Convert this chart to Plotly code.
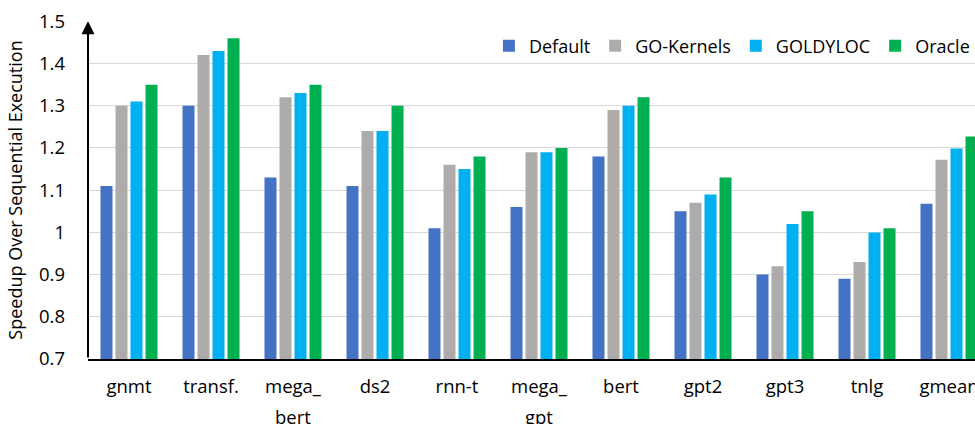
import plotly.graph_objects as go

categories = ["gnmt", "transf.", "mega_", "ds2", "rnn-t", "mega_", "bert", "gpt2", "gpt3", "tnlg", "gmean"]
second_line = ["", "", "bert", "", "", "gpt", "", "", "", "", ""]
series_names = ["Default", "GO-Kernels", "GOLDYLOC", "Oracle"]
default_vals = [1.11, 1.30, 1.13, 1.11, 1.01, 1.06, 1.18, 1.05, 0.90, 0.89, 1.068]
gokernels_vals = [1.30, 1.42, 1.32, 1.24, 1.16, 1.19, 1.29, 1.07, 0.92, 0.93, 1.172]
goldyloc_vals = [1.31, 1.43, 1.33, 1.24, 1.15, 1.19, 1.30, 1.09, 1.02, 1.00, 1.199]
oracle_vals = [1.35, 1.46, 1.35, 1.30, 1.18, 1.20, 1.32, 1.13, 1.05, 1.01, 1.227]
y_tickvals = [0.7, 0.8, 0.9, 1.0, 1.1, 1.2, 1.3, 1.4, 1.5]
y_ticktext = ["0.7", "0.8", "0.9", "1", "1.1", "1.2", "1.3", "1.4", "1.5"]
colors = ["#4472C4", "#AEABAB", "#00B0F0", "#00B050"]

FONT = "Open Sans, Calibri, sans-serif"
FS = 18.5
x_idx = list(range(len(categories)))

fig = go.Figure()
for name, vals, col in zip(series_names, [default_vals, gokernels_vals, goldyloc_vals, oracle_vals], colors):
    fig.add_trace(go.Bar(x=x_idx, y=vals, name=name, marker=dict(color=col, line=dict(width=0))))

annotations = []
for i, t in enumerate(second_line):
    if t:
        annotations.append(dict(x=i, y=0, xref="x", yref="paper", text=t, showarrow=False,
                                yanchor="middle", yshift=-57, font=dict(family=FONT, size=FS, color="#000")))
# y-axis arrow
annotations.append(dict(x=-0.5, y=1.5, xref="x", yref="y", ax=-0.5, ay=0.7, axref="x", ayref="y",
                        text="", showarrow=True, arrowhead=2, arrowsize=1.3, arrowwidth=2, arrowcolor="#000"))

fig.update_layout(
    width=975, height=424,
    margin=dict(l=88, r=0, t=21, b=65, autoexpand=False),
    paper_bgcolor="white", plot_bgcolor="white",
    barmode="group", bargap=0.268, bargroupgap=0.2,
    font=dict(family=FONT, size=FS, color="#000"),
    showlegend=True,
    legend=dict(orientation="h", x=0.452, xanchor="left", y=0.926, yanchor="middle",
                font=dict(family=FONT, size=18, color="#000"), bgcolor="rgba(0,0,0,0)",
                traceorder="normal"),
    xaxis=dict(tickmode="array", tickvals=x_idx, ticktext=categories, range=[-0.5, 10.317],
               showgrid=False, showline=True, linecolor="#000", linewidth=2, ticks="",
               automargin=False, ticklabeloverflow="allow",
               ticklabelstandoff=10, tickfont=dict(family=FONT, size=FS, color="#000"), zeroline=False),
    yaxis=dict(range=[0.7, 1.5008], tickmode="array", tickvals=y_tickvals, ticktext=y_ticktext,
               showgrid=True, gridcolor="#D9D9D9", gridwidth=1, showline=False, ticks="",
               automargin=False, ticklabeloverflow="allow",
               ticklabelstandoff=22, zeroline=False, tickfont=dict(family=FONT, size=FS, color="#000"),
               title=dict(text="Speedup Over Sequential Execution", standoff=11,
                          font=dict(family=FONT, size=18, color="#000"))),
    annotations=annotations,
)

fig.write_html(
    "out.html",
    config={"displayModeBar": False},
    post_script="document.body.style.margin='0';document.documentElement.style.overflow='hidden';",
)
